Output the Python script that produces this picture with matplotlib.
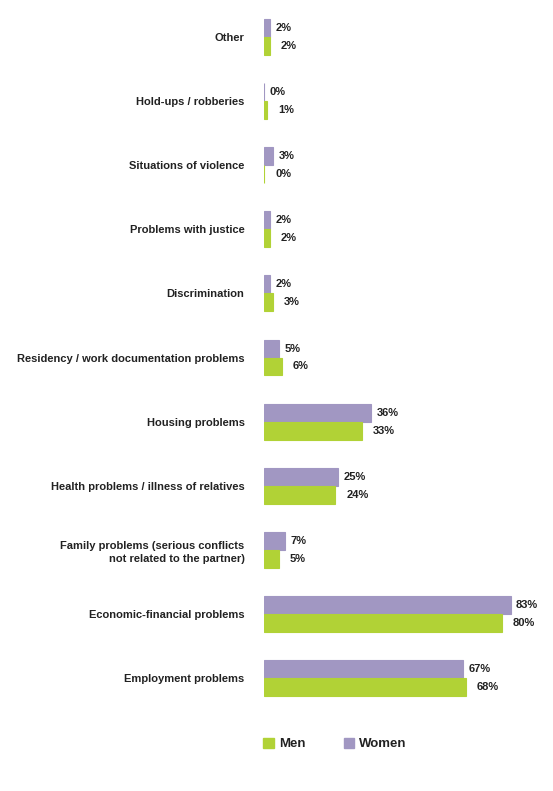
import matplotlib.pyplot as plt
from matplotlib.patches import Patch
import numpy as np

# Categories top to bottom
categories = ["Other",
              "Hold-ups / robberies",
              "Situations of violence",
              "Problems with justice",
              "Discrimination",
              "Residency / work documentation problems",
              "Housing problems",
              "Health problems / illness of relatives",
              "Family problems (serious conflicts\nnot related to the partner)",
              "Economic-financial problems",
              "Employment problems"]
women = [2, 0, 3, 2, 2, 5, 36, 25, 7, 83, 67]
men = [2, 1, 0, 2, 3, 6, 33, 24, 5, 80, 68]

women_color = "#A197C2"
men_color = "#B1D236"
text_color = "#222222"

plt.rcParams['font.family'] = ['Liberation Sans', 'DejaVu Sans']

fig = plt.figure(figsize=(5.53, 7.91), dpi=100)
ax = fig.add_axes([264 / 553, 1 - 710 / 791, 289 / 553, 705 / 791])

y = np.arange(len(categories))
h = 0.28
ax.barh(y - h / 2, women, height=h, color=women_color, edgecolor=women_color, linewidth=0.8)
ax.barh(y + h / 2, men, height=h, color=men_color, edgecolor=men_color, linewidth=0.8)

# value labels
for i in range(len(categories)):
    ax.annotate(f"{women[i]}%", (women[i], y[i] - h / 2), xytext=(4, 0), textcoords="offset points",
                va="center", ha="left", fontsize=8, fontweight="bold", color=text_color)
    ax.annotate(f"{men[i]}%", (men[i], y[i] + h / 2), xytext=(8, 0), textcoords="offset points",
                va="center", ha="left", fontsize=8, fontweight="bold", color=text_color)

ax.set_xlim(0, 289 / 2.97)
ax.set_ylim(len(categories) - 0.5, -0.5)
ax.set_yticks(y)
ax.set_yticklabels(categories, fontsize=8, fontweight="bold", color=text_color)
for lbl in ax.get_yticklabels():
    lbl.set_linespacing(1.4)
ax.tick_params(axis="y", length=0, pad=14)
ax.set_xticks([])
for s in ax.spines.values():
    s.set_visible(False)

handles = [Patch(color=men_color, label="Men"), Patch(color=women_color, label="Women")]
fig.legend(handles=handles, loc="center left", bbox_to_anchor=(263 / 553, 1 - 744 / 791),
           ncol=2, frameon=False, handlelength=0.8, handleheight=0.8, handletextpad=0.4,
           columnspacing=2.9, borderaxespad=0, borderpad=0,
           prop={"size": 9.5, "weight": "bold"}, labelcolor=text_color)

fig.savefig("out.png", dpi=100)
